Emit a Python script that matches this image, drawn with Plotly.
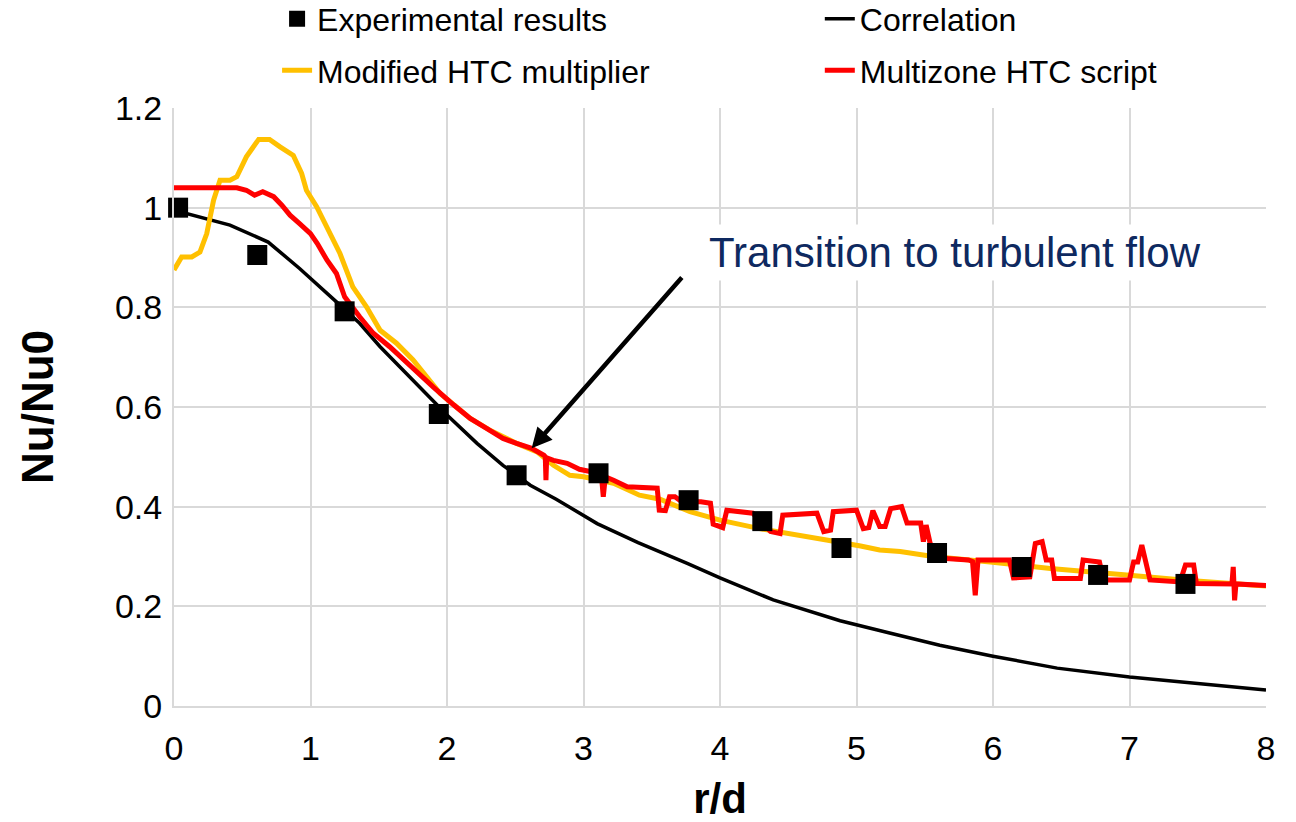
import plotly.graph_objects as go

# ---------------- data ----------------
exp_x = [0.03, 0.61, 1.25, 1.94, 2.51, 3.11, 3.77, 4.31, 4.89, 5.59, 6.21, 6.77, 7.41]
exp_y = [1.0, 0.905, 0.792, 0.586, 0.463, 0.467, 0.413, 0.371, 0.317, 0.307, 0.279, 0.263, 0.245]

corr_x = [0.0, 0.41, 0.69, 0.92, 1.19, 1.36, 1.51, 1.75, 2.0, 2.22, 2.41, 2.61, 2.80, 3.10, 3.40,
          3.76, 4.0, 4.39, 4.88, 5.25, 5.61, 6.0, 6.47, 7.0, 7.52, 8.0]
corr_y = [0.995, 0.965, 0.931, 0.878, 0.811, 0.768, 0.721, 0.655, 0.584, 0.527, 0.483, 0.443, 0.415,
          0.366, 0.328, 0.286, 0.257, 0.213, 0.171, 0.146, 0.122, 0.100, 0.076, 0.058, 0.044, 0.032]

mod_x = [0.0, 0.056, 0.13, 0.19, 0.24, 0.29, 0.337, 0.41, 0.46, 0.53, 0.62, 0.70, 0.777, 0.874,
         0.935, 0.97, 1.045, 1.12, 1.216, 1.31, 1.41, 1.51, 1.63, 1.75, 1.85, 1.95, 2.17, 2.31,
         2.51, 2.66, 2.78, 2.90, 3.0, 3.22, 3.41, 3.56, 3.78, 4.0, 4.29, 4.59, 4.78, 5.03, 5.17,
         5.32, 5.56, 5.98, 6.42, 6.98, 7.39, 8.0]
mod_y = [0.875, 0.901, 0.901, 0.911, 0.948, 1.015, 1.055, 1.055, 1.062, 1.102, 1.137, 1.137, 1.122,
         1.105, 1.069, 1.035, 1.002, 0.962, 0.908, 0.841, 0.801, 0.754, 0.728, 0.695, 0.662, 0.627,
         0.577, 0.554, 0.527, 0.510, 0.483, 0.463, 0.460, 0.447, 0.423, 0.415, 0.390, 0.373, 0.356,
         0.343, 0.333, 0.321, 0.313, 0.310, 0.300, 0.289, 0.276, 0.263, 0.253, 0.241]

multi_x = [0.0, 0.46, 0.53, 0.59, 0.65, 0.73, 0.79, 0.85, 0.92, 1.0, 1.05, 1.12, 1.19, 1.25, 1.36,
           1.46, 1.58, 1.70, 1.80, 1.90, 2.05, 2.17, 2.29, 2.41, 2.51, 2.62, 2.71, 2.72, 2.725,
           2.73, 2.78, 2.88, 2.97, 3.07, 3.13, 3.145, 3.16, 3.22, 3.32, 3.54, 3.555, 3.60, 3.63,
           3.67, 3.72, 3.86, 3.93, 3.95, 4.02, 4.05, 4.24, 4.37, 4.44, 4.46, 4.71, 4.76, 4.81,
           4.83, 5.0, 5.05, 5.09, 5.12, 5.17, 5.21, 5.25, 5.33, 5.37, 5.47, 5.49, 5.51, 5.54,
           5.60, 5.66, 5.82, 5.85, 5.87, 5.89, 6.12, 6.15, 6.27, 6.31, 6.36, 6.39, 6.43, 6.45,
           6.64, 6.66, 6.78, 6.81, 7.0, 7.03, 7.06, 7.09, 7.15, 7.37, 7.41, 7.47, 7.49, 7.75,
           7.76, 7.77, 7.78, 8.0]
multi_y = [1.040, 1.040, 1.035, 1.025, 1.032, 1.022, 1.005, 0.985, 0.968, 0.948, 0.928, 0.895,
           0.868, 0.821, 0.781, 0.748, 0.721, 0.690, 0.665, 0.640, 0.604, 0.577, 0.557, 0.537,
           0.527, 0.517, 0.503, 0.500, 0.453, 0.498, 0.493, 0.487, 0.475, 0.470, 0.466, 0.420,
           0.460, 0.453, 0.440, 0.437, 0.393, 0.392, 0.420, 0.420, 0.410, 0.410, 0.407, 0.365,
           0.358, 0.393, 0.387, 0.350, 0.346, 0.383, 0.387, 0.350, 0.353, 0.390, 0.393, 0.356,
           0.358, 0.392, 0.360, 0.360, 0.396, 0.400, 0.367, 0.367, 0.330, 0.363, 0.326, 0.305,
           0.296, 0.293, 0.290, 0.222, 0.293, 0.293, 0.257, 0.259, 0.326, 0.330, 0.293, 0.293,
           0.256, 0.256, 0.293, 0.289, 0.253, 0.253, 0.289, 0.289, 0.323, 0.253, 0.249, 0.283,
           0.283, 0.246, 0.245, 0.279, 0.212, 0.245, 0.242]

x_ticks = [0, 1, 2, 3, 4, 5, 6, 7, 8]
y_ticks = [0, 0.2, 0.4, 0.6, 0.8, 1.0, 1.2]

FONT = "Liberation Sans, Arial, sans-serif"

fig = go.Figure()
fig.add_trace(go.Scatter(x=corr_x, y=corr_y, mode="lines", name="Correlation",
                         line=dict(color="#000000", width=3.5), legend="legend2", legendrank=1,
                         legendgroup="g3"))
fig.add_trace(go.Scatter(x=mod_x, y=mod_y, mode="lines", name="Modified HTC multiplier",
                         line=dict(color="#FFC000", width=5), legend="legend", legendrank=2,
                         legendgroup="g2"))
fig.add_trace(go.Scatter(x=multi_x, y=multi_y, mode="lines", name="Multizone HTC script",
                         line=dict(color="#FF0000", width=5), legend="legend2", legendrank=2,
                         legendgroup="g4"))
fig.add_trace(go.Scatter(x=exp_x, y=exp_y, mode="markers", name="Experimental results",
                         marker=dict(symbol="square", size=20, color="#000000", line=dict(width=0)),
                         cliponaxis=False, legend="legend", legendrank=1, legendgroup="g1"))

legend_common = dict(font=dict(family=FONT, size=32, color="#000000"), orientation="v",
                     yanchor="top", xanchor="left", bgcolor="rgba(0,0,0,0)",
                     tracegroupgap=7, itemwidth=30)

fig.update_layout(
    width=1296, height=822,
    margin=dict(l=174, r=30, t=108, b=116, autoexpand=False),
    paper_bgcolor="white", plot_bgcolor="white",
    font=dict(family=FONT, size=32, color="#000000"),
    showlegend=True,
    legend=dict(x=0.0944, y=1.195, **legend_common),
    legend2=dict(x=0.5914, y=1.195, **legend_common),
    xaxis=dict(range=[0, 8], tickvals=x_ticks, showgrid=True, gridcolor="#D9D9D9", gridwidth=2,
               zeroline=False, showline=True, linecolor="#D9D9D9", linewidth=2,
               tickfont=dict(size=34, color="#000000"), ticks="", ticklabelstandoff=11,
               automargin=False,
               title=dict(text="<b>r/d</b>", font=dict(size=42, color="#000000"), standoff=19)),
    yaxis=dict(range=[0, 1.2], tickvals=y_ticks, showgrid=True, gridcolor="#D9D9D9", gridwidth=2,
               zeroline=False, showline=True, linecolor="#D9D9D9", linewidth=2,
               tickfont=dict(size=34, color="#000000"), ticks="", ticklabelstandoff=3,
               automargin=False,
               title=dict(text="<b>Nu/Nu0</b>", font=dict(size=44, color="#000000"), standoff=48)),
)

# text box
fig.add_annotation(x=5.72, y=0.911, xref="x", yref="y", text="Transition to turbulent flow",
                   showarrow=False, font=dict(family=FONT, size=42, color="#0E2960"),
                   bgcolor="white", borderpad=4)
# arrow
fig.add_annotation(x=2.62, y=0.517, ax=3.73, ay=0.863, xref="x", yref="y", axref="x", ayref="y",
                   text="", showarrow=True, arrowhead=2, arrowsize=0.9, arrowwidth=4.5,
                   arrowcolor="#000000")

fig.write_html("out.html")
